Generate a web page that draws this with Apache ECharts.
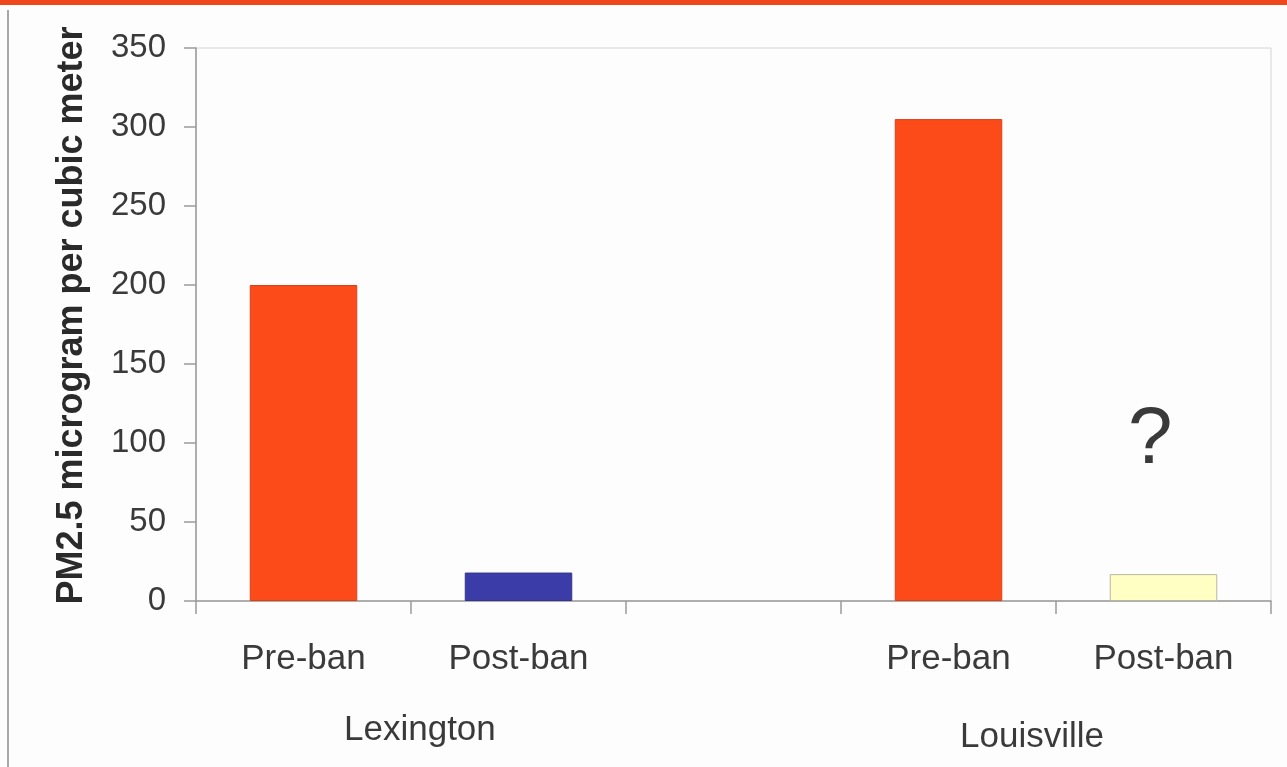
<!DOCTYPE html>
<html>
<head>
<meta charset="utf-8">
<script src="https://cdn.jsdelivr.net/npm/echarts@6/dist/echarts.min.js"></script>
<style>
  html, body { margin: 0; padding: 0; background: #fdfdfd; }
  #chart { width: 1287px; height: 767px; }
</style>
</head>
<body>
<div id="chart"></div>
<script>
// PM2.5 concentrations before and after the smoking ban
const categories = ['Pre-ban', 'Post-ban', '', 'Pre-ban', 'Post-ban'];
const pm25Values = [200, 18, null, 305, 17];
const cityGroups = ['Lexington', 'Louisville'];
const yTicks = [0, 50, 100, 150, 200, 250, 300, 350];

const barColors = ['#fc4a18', '#3c3ca8', '#ffffff', '#fc4a18', '#ffffc4'];
const barBorders = ['#d8401a', '#34348f', '#ffffff', '#d8401a', '#b8b8a0'];
const FONT = '"Liberation Sans", Arial, sans-serif';

const chart = echarts.init(document.getElementById('chart'));

chart.setOption({
  backgroundColor: '#fdfdfd',
  animation: false,
  grid: {
    left: 196, right: 16, top: 48, bottom: 166,
    show: true, borderColor: '#d4d4d4', borderWidth: 1, backgroundColor: 'transparent'
  },
  xAxis: {
    type: 'category',
    data: categories,
    boundaryGap: true,
    axisLine: { lineStyle: { color: '#9a9a9a', width: 1.5 } },
    axisTick: { show: true, alignWithLabel: false, length: 13, lineStyle: { color: '#9a9a9a', width: 1.5 } },
    axisLabel: { color: '#3a3a3a', fontSize: 35, fontFamily: FONT, margin: 41, interval: 0 }
  },
  yAxis: {
    type: 'value',
    min: yTicks[0],
    max: yTicks[yTicks.length - 1],
    interval: 50,
    name: 'PM2.5 microgram per cubic meter',
    nameLocation: 'middle',
    nameGap: 106,
    nameRotate: 90,
    nameTextStyle: { color: '#2a2a2a', fontSize: 36, fontWeight: 'bold', fontFamily: FONT, padding: [0, 0, 0, 18] },
    axisLine: { show: true, lineStyle: { color: '#9a9a9a', width: 1.5 } },
    axisTick: { show: true, length: 12, lineStyle: { color: '#9a9a9a', width: 1.5 } },
    axisLabel: { color: '#3a3a3a', fontSize: 33, fontFamily: FONT, margin: 30 },
    splitLine: { show: false }
  },
  series: [{
    type: 'bar',
    barWidth: '50%',
    data: pm25Values.map((v, i) => ({
      value: v,
      itemStyle: { color: barColors[i], borderColor: barBorders[i], borderWidth: 1 }
    }))
  }],
  graphic: [
    // red band across the top of the slide
    { type: 'rect', left: 0, top: 0, shape: { width: 1287, height: 5 }, style: { fill: '#f0461c' }, z: 10 },
    // thin frame line on the left
    { type: 'rect', left: 7, top: 10, shape: { width: 2, height: 757 }, style: { fill: '#a8a8a8' }, z: 10 },
    { type: 'text', left: 344, top: 713, style: { text: cityGroups[0], fontSize: 35, fontFamily: FONT, fill: '#3a3a3a' } },
    { type: 'text', left: 960, top: 720, style: { text: cityGroups[1], fontSize: 35, fontFamily: FONT, fill: '#3a3a3a' } },
    { type: 'text', left: 1128, top: 401, style: { text: '?', fontSize: 80, fontFamily: FONT, fill: '#3a3a3a' } }
  ]
});
</script>
</body>
</html>
